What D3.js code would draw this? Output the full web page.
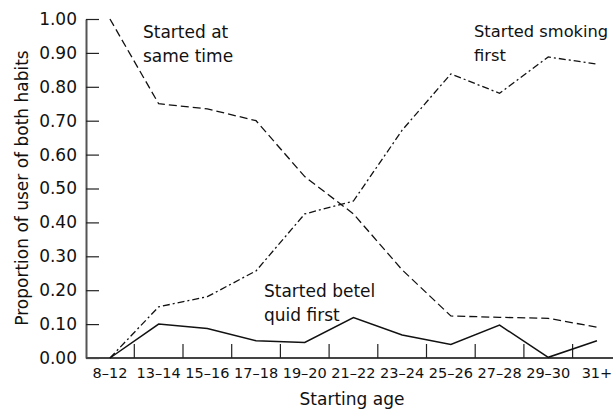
<!DOCTYPE html>
<html>
<head>
<meta charset="utf-8">
<script src="https://cdn.jsdelivr.net/npm/d3@7"></script>
<style>
  html, body { margin: 0; padding: 0; background: #fff; }
  svg { display: block; }
  text { font-family: "DejaVu Sans", sans-serif; fill: #111; }
</style>
</head>
<body>
<svg id="chart" width="613" height="410"></svg>
<script>
const categories = ["8–12","13–14","15–16","17–18","19–20","21–22","23–24","25–26","27–28","29–30","31+"];
const sameTime    = [1.00, 0.75, 0.735, 0.70, 0.535, 0.425, 0.26, 0.124, 0.12, 0.117, 0.091];
const smokingFirst= [0.00, 0.151, 0.181, 0.257, 0.425, 0.463, 0.672, 0.838, 0.781, 0.888, 0.867];
const betelFirst  = [0.00, 0.100, 0.087, 0.051, 0.046, 0.119, 0.068, 0.040, 0.097, 0.002, 0.051];
const yTicks = [0, 0.1, 0.2, 0.3, 0.4, 0.5, 0.6, 0.7, 0.8, 0.9, 1.0];
const yTitle = "Proportion of user of both habits";
const xTitle = "Starting age";
const annotations = [
  {lines: ["Started at", "same time"], x: 143, y: 38, size: 17},
  {lines: ["Started smoking", "first"], x: 474, y: 37, size: 16.3},
  {lines: ["Started betel", "quid first"], x: 264, y: 297, size: 17}
];

const svg = d3.select("#chart");
const x = d3.scaleBand().domain(categories).range([85.6, 621.3]).paddingInner(0).paddingOuter(0);
const y = d3.scaleLinear().domain([0, 1]).range([358, 19]);
const cx = d => x(d) + x.bandwidth() / 2;

// Y axis
const yAxis = svg.append("g").attr("transform", "translate(86,0)")
  .call(d3.axisLeft(y).tickValues(yTicks).tickFormat(d3.format(".2f"))
        .tickSizeInner(-13).tickSizeOuter(0).tickPadding(9));
yAxis.select(".domain").attr("stroke", "#555").attr("stroke-width", 2);
yAxis.selectAll(".tick line").attr("stroke", "#222").attr("stroke-width", 1.2);
yAxis.selectAll(".tick text").style("font-size", "17px").style("font-family", "DejaVu Sans").attr("fill", "#111");

// X axis baseline
svg.append("line").attr("x1", 86).attr("x2", 613).attr("y1", y(0)).attr("y2", y(0))
  .attr("stroke", "#444").attr("stroke-width", 2);
// boundary ticks (pointing up)
svg.append("g").selectAll("line").data(categories.slice(1)).join("line")
  .attr("x1", d => x(d)).attr("x2", d => x(d))
  .attr("y1", y(0)).attr("y2", y(0) - 14)
  .attr("stroke", "#222").attr("stroke-width", 1.2);
// category labels
svg.append("g").selectAll("text").data(categories).join("text")
  .attr("x", d => cx(d)).attr("y", 378)
  .attr("text-anchor", "middle").style("font-size", "14.5px")
  .text(d => d);

// Lines
const line = d3.line().x((d, i) => cx(categories[i])).y(d => y(d));
svg.append("path").datum(sameTime).attr("d", line)
  .attr("fill", "none").attr("stroke", "#111").attr("stroke-width", 1.3)
  .attr("stroke-dasharray", "8,4");
svg.append("path").datum(smokingFirst).attr("d", line)
  .attr("fill", "none").attr("stroke", "#111").attr("stroke-width", 1.3)
  .attr("stroke-dasharray", "7,3,2,3");
svg.append("path").datum(betelFirst).attr("d", line)
  .attr("fill", "none").attr("stroke", "#111").attr("stroke-width", 1.5);

// Annotations
annotations.forEach(a => {
  const t = svg.append("text").attr("x", a.x).attr("y", a.y).style("font-size", a.size + "px");
  a.lines.forEach((l, i) => t.append("tspan").attr("x", a.x).attr("dy", i === 0 ? 0 : 24).text(l));
});

// Titles
svg.append("text").attr("transform", "translate(28,188) rotate(-90)")
  .attr("text-anchor", "middle").style("font-size", "17px").text(yTitle);
svg.append("text").attr("x", 352).attr("y", 405)
  .attr("text-anchor", "middle").style("font-size", "17px").text(xTitle);
</script>
</body>
</html>
